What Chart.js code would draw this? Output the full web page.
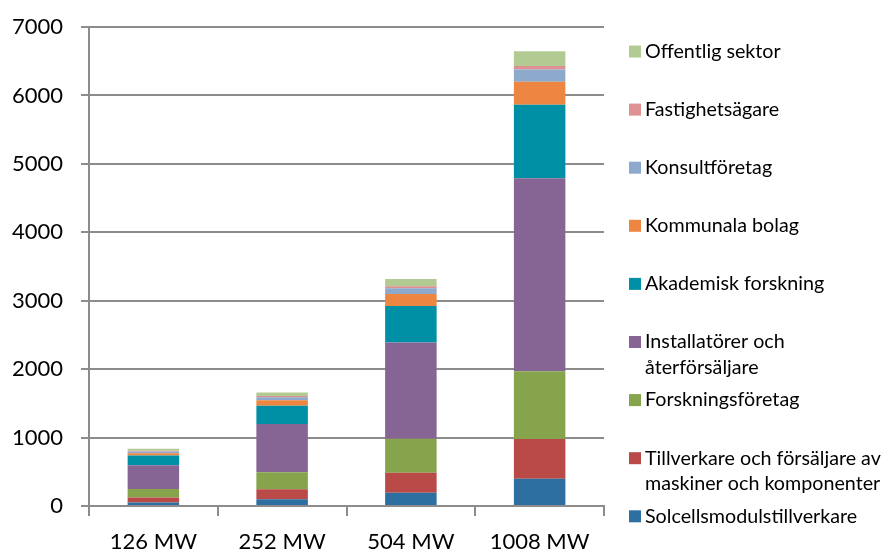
<!DOCTYPE html>
<html>
<head>
<meta charset="utf-8">
<script src="https://cdn.jsdelivr.net/npm/chart.js@4"></script>
<style>
  html, body { margin: 0; padding: 0; background: #fff; }
  #wrap { width: 885px; height: 549px; }
</style>
</head>
<body>
<div id="wrap"><canvas id="barChart" width="885" height="549"></canvas></div>
<script>
// categories (x axis)
const categories = ['126 MW', '252 MW', '504 MW', '1008 MW'];

// series, bottom of stack first
const seriesNames = [
    'Solcellsmodulstillverkare',
    'Tillverkare och försäljare av\nmaskiner och komponenter',
    'Forskningsföretag',
    'Installatörer och\nåterförsäljare',
    'Akademisk forskning',
    'Kommunala bolag',
    'Konsultföretag',
    'Fastighetsägare',
    'Offentlig sektor'
];
const seriesColors = [
    '#2c6fa0', '#b94a48', '#86a44c', '#866594', '#0090a6',
    '#ec8641', '#8da9cc', '#de9193', '#b2cb93'
];

const solcell     = [50, 98, 195, 400];
const tillverkare = [73, 146, 292, 580];
const forskfore   = [124, 248, 496, 990];
const installat   = [350, 705, 1406, 2820];
const akademisk   = [140, 267, 535, 1075];
const kommunala   = [35, 83, 175, 335];
const konsult     = [24, 44, 83, 180];
const fastighet   = [10, 15, 30, 50];
const offentlig   = [29, 54, 106, 215];

const seriesValues = [solcell, tillverkare, forskfore, installat, akademisk,
    kommunala, konsult, fastighet, offentlig];

const yTicks = [0, 1000, 2000, 3000, 4000, 5000, 6000, 7000];

const FONT = 'Lato';

// legend drawn by hand so labels can wrap like in the original
const sideLegend = {
    id: 'sideLegend',
    afterDraw(chart) {
        const ctx = chart.ctx;
        ctx.save();
        ctx.font = '19.7px ' + FONT;
        ctx.textBaseline = 'middle';
        ctx.textAlign = 'left';
        const n = seriesNames.length;
        for (let i = 0; i < n; i++) {
            const idx = n - 1 - i;
            const y = 51.5 + i * 58.1;
            ctx.fillStyle = seriesColors[idx];
            ctx.fillRect(629, y - 6, 12, 12);
            ctx.fillStyle = '#000';
            seriesNames[idx].split('\n').forEach((line, k) => {
                ctx.fillText(line, 645, y + k * 25.7);
            });
        }
        ctx.restore();
    }
};

const ctx = document.getElementById('barChart').getContext('2d');
new Chart(ctx, {
    type: 'bar',
    data: {
        labels: categories,
        datasets: seriesValues.map((vals, i) => ({
            label: seriesNames[i].replace('\n', ' '),
            data: vals,
            backgroundColor: seriesColors[i],
            borderWidth: 0,
            categoryPercentage: 1,
            barPercentage: 0.4
        }))
    },
    options: {
        responsive: false,
        maintainAspectRatio: false,
        animation: false,
        layout: { padding: { left: 0, right: 281, top: 27, bottom: 0 } },
        plugins: {
            legend: { display: false },
            tooltip: { enabled: false }
        },
        scales: {
            x: {
                stacked: true,
                grid: {
                    offset: true,
                    drawOnChartArea: false,
                    drawTicks: true,
                    tickLength: 10,
                    color: '#8c8c8c',
                    lineWidth: 2
                },
                border: { color: '#8c8c8c', width: 2 },
                ticks: {
                    color: '#000',
                    font: { family: FONT, size: 22 },
                    padding: 13,
                    maxRotation: 0
                },
                afterFit(scale) {
                    scale.height = 43;
                    scale.paddingLeft = 0;
                    scale.paddingRight = 0;
                }
            },
            y: {
                stacked: true,
                min: 0,
                max: 7000,
                afterBuildTicks(scale) {
                    scale.ticks = yTicks.map(v => ({ value: v }));
                },
                grid: {
                    color: '#8c8c8c',
                    lineWidth: 2,
                    drawTicks: true,
                    tickLength: 8
                },
                border: { color: '#8c8c8c', width: 2 },
                ticks: {
                    color: '#000',
                    font: { family: FONT, size: 22 },
                    padding: 18,
                    callback: v => String(v)
                },
                afterFit(scale) {
                    scale.width = 89;
                    scale.paddingTop = 0;
                    scale.paddingBottom = 0;
                }
            }
        }
    },
    plugins: [sideLegend]
});
</script>
</body>
</html>
